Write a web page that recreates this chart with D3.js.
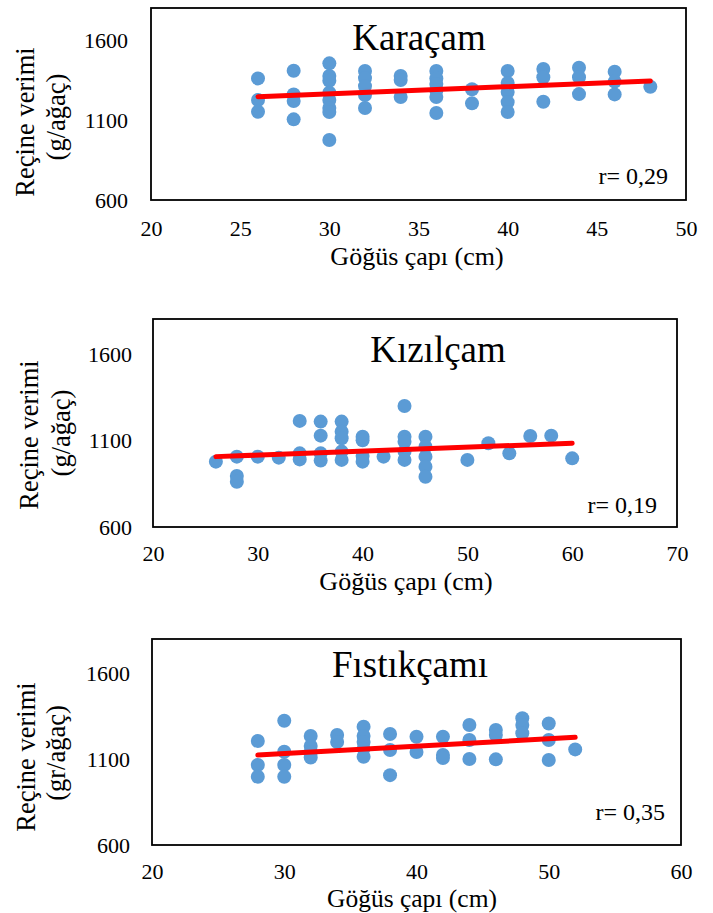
<!DOCTYPE html>
<html>
<head>
<meta charset="utf-8">
<script src="https://cdn.jsdelivr.net/npm/d3@7/dist/d3.min.js"></script>
<style>
  html, body { margin: 0; padding: 0; background: #fff; }
  svg { display: block; }
  svg text { font-family: "Liberation Serif", "Times New Roman", "DejaVu Serif", serif !important; fill: #000; }
</style>
</head>
<body>
<svg id="chart" width="713" height="913" font-family="Liberation Serif, Times New Roman, serif"></svg>
<script>
// ---------- DATA ----------
const panelTitles = ["Karaçam", "Kızılçam", "Fıstıkçamı"];
const rLabels = ["r= 0,29", "r= 0,19", "r= 0,35"];
const yTitleLine1 = ["Reçine verimi", "Reçine verimi", "Reçine verimi"];
const yTitleLine2 = ["(g/ağaç)", "(g/ağaç)", "(gr/ağaç)"];
const xTitle = "Göğüs çapı (cm)";

const xTicksKaracam = [20, 25, 30, 35, 40, 45, 50];
const xTicksKizilcam = [20, 30, 40, 50, 60, 70];
const xTicksFistik = [20, 30, 40, 50, 60];
const yTicks = [600, 1100, 1600];

// [diameter (cm), resin yield]
const karacamPts = [
  [26,1360],[26,1225],[26,1152],
  [28,1408],[28,1260],[28,1219],[28,1104],
  [30,1454],[30,1375],[30,1345],[30,1270],[30,1225],[30,1175],[30,1150],[30,975],
  [32,1406],[32,1362],[32,1312],[32,1256],[32,1175],
  [34,1375],[34,1350],[34,1244],
  [36,1406],[36,1360],[36,1325],[36,1285],[36,1244],[36,1144],
  [38,1292],[38,1204],
  [40,1406],[40,1331],[40,1275],[40,1212],[40,1150],
  [42,1419],[42,1367],[42,1214],
  [44,1427],[44,1367],[44,1262],
  [46,1402],[46,1340],[46,1260],
  [48,1308]
];
const kizilcamPts = [
  [26,977],
  [28,1006],[28,894],[28,861],
  [30,1006],
  [32,1000],
  [34,1212],[34,1025],[34,990],
  [36,1208],[36,1127],[36,1025],[36,983],
  [38,1208],[38,1150],[38,1112],[38,1035],[38,987],
  [40,1121],[40,1100],[40,1010],[40,977],
  [42,1006],
  [44,1298],[44,1121],[44,1092],[44,1035],[44,987],
  [46,1121],[46,1063],[46,1006],[46,948],[46,890],
  [50,987],[52,1083],[54,1025],[56,1125],[58,1127],[60,996]
];
const fistikPts = [
  [28,1206],[28,1066],[28,998],
  [30,1324],[30,1143],[30,1066],[30,998],
  [32,1235],[32,1177],[32,1140],[32,1110],
  [34,1241],[34,1200],
  [36,1289],[36,1235],[36,1200],[36,1160],[36,1114],
  [38,1247],[38,1153],[38,1007],
  [40,1231],[40,1142],
  [42,1231],[42,1124],[42,1107],
  [44,1299],[44,1212],[44,1101],
  [46,1270],[46,1241],[46,1099],
  [48,1338],[48,1299],[48,1251],
  [50,1308],[50,1212],[50,1095],
  [52,1157]
];
// trend line end points
const karacamTrend = [[26,1246],[48,1344]];
const kizilcamTrend = [[26,1006],[60,1083]];
const fistikTrend = [[28,1124],[52,1227]];

// ---------- LAYOUT (positions only) ----------
const FONT = "'Liberation Serif', 'Times New Roman', serif";
const panels = [
  { pts: karacamPts, trend: karacamTrend, xTicks: xTicksKaracam, xDom: [20, 50],
    box: { l: 151, r: 686, t: 8, b: 200 }, titleX: 419, titleY: 50,
    yT1: { x: 34, y: 122 }, yT2: { x: 65, y: 117 }, xTitleX: 417, xTitleY: 265, xTitleFs: 26,
    rX: 668, rY: 184, yTickR: 128, xTickDy: 36 },
  { pts: kizilcamPts, trend: kizilcamTrend, xTicks: xTicksKizilcam, xDom: [20, 70],
    box: { l: 153, r: 677, t: 319, b: 527 }, titleX: 438, titleY: 362,
    yT1: { x: 38, y: 435 }, yT2: { x: 70, y: 433 }, xTitleX: 406, xTitleY: 590, xTitleFs: 26,
    rX: 657, rY: 513, yTickR: 132, xTickDy: 34 },
  { pts: fistikPts, trend: fistikTrend, xTicks: xTicksFistik, xDom: [20, 60],
    box: { l: 152, r: 681, t: 639, b: 845 }, titleX: 410, titleY: 677,
    yT1: { x: 35, y: 757 }, yT2: { x: 65, y: 753 }, xTitleX: 412, xTitleY: 907, xTitleFs: 25.5,
    rX: 665, rY: 820, yTickR: 130, xTickDy: 34 }
];

const svg = d3.select("#chart");
svg.append("rect").attr("width", 713).attr("height", 913).attr("fill", "#fff");

panels.forEach((p, i) => {
  const g = svg.append("g");
  const x = d3.scaleLinear().domain(p.xDom).range([p.box.l, p.box.r]);
  const y = d3.scaleLinear().domain([600, 1800]).range([p.box.b, p.box.t]);

  // x tick labels via axis
  const xAxis = d3.axisBottom(x).tickValues(p.xTicks).tickSize(0).tickPadding(0)
    .tickFormat(d3.format("d"));
  const xg = g.append("g").attr("transform", `translate(0,${p.box.b})`).call(xAxis);
  xg.attr("font-family", null).attr("font-size", null);
  xg.select(".domain").remove();
  xg.selectAll("text").attr("dy", null).attr("y", p.xTickDy)
    .style("font-family", FONT).style("font-size", "22px").attr("fill", "#000");

  // y tick labels via axis
  const yAxis = d3.axisLeft(y).tickValues(yTicks).tickSize(0).tickPadding(0)
    .tickFormat(d3.format("d"));
  const yg = g.append("g").attr("transform", `translate(${p.yTickR},0)`).call(yAxis);
  yg.attr("font-family", null).attr("font-size", null);
  yg.select(".domain").remove();
  yg.selectAll("text").attr("x", 0).attr("dy", "0.34em")
    .style("font-family", FONT).style("font-size", "22px").attr("fill", "#000");

  // points
  g.append("g").selectAll("circle").data(p.pts).join("circle")
    .attr("cx", d => x(d[0])).attr("cy", d => y(d[1])).attr("r", 7)
    .attr("fill", "#5B9BD5");

  // trend line
  g.append("line")
    .attr("x1", x(p.trend[0][0])).attr("y1", y(p.trend[0][1]))
    .attr("x2", x(p.trend[1][0])).attr("y2", y(p.trend[1][1]))
    .attr("stroke", "#FF0000").attr("stroke-width", 5).attr("stroke-linecap", "round");

  // box
  g.append("rect")
    .attr("x", p.box.l).attr("y", p.box.t)
    .attr("width", p.box.r - p.box.l).attr("height", p.box.b - p.box.t)
    .attr("fill", "none").attr("stroke", "#000").attr("stroke-width", 1.8);

  // title
  g.append("text").attr("x", p.titleX).attr("y", p.titleY)
    .attr("text-anchor", "middle").style("font-family", FONT).style("font-size", "37px")
    .text(panelTitles[i]);

  // r label
  g.append("text").attr("x", p.rX).attr("y", p.rY)
    .attr("text-anchor", "end").style("font-family", FONT).style("font-size", "24px")
    .text(rLabels[i]);

  // x title
  g.append("text").attr("x", p.xTitleX).attr("y", p.xTitleY)
    .attr("text-anchor", "middle").style("font-family", FONT).style("font-size", p.xTitleFs + "px")
    .text(xTitle);

  // y titles
  g.append("text").attr("transform", `translate(${p.yT1.x},${p.yT1.y}) rotate(-90)`)
    .attr("text-anchor", "middle").style("font-family", FONT).style("font-size", "26.5px")
    .text(yTitleLine1[i]);
  g.append("text").attr("transform", `translate(${p.yT2.x},${p.yT2.y}) rotate(-90)`)
    .attr("text-anchor", "middle").style("font-family", FONT).style("font-size", "26.5px")
    .text(yTitleLine2[i]);
});
</script>
</body>
</html>
